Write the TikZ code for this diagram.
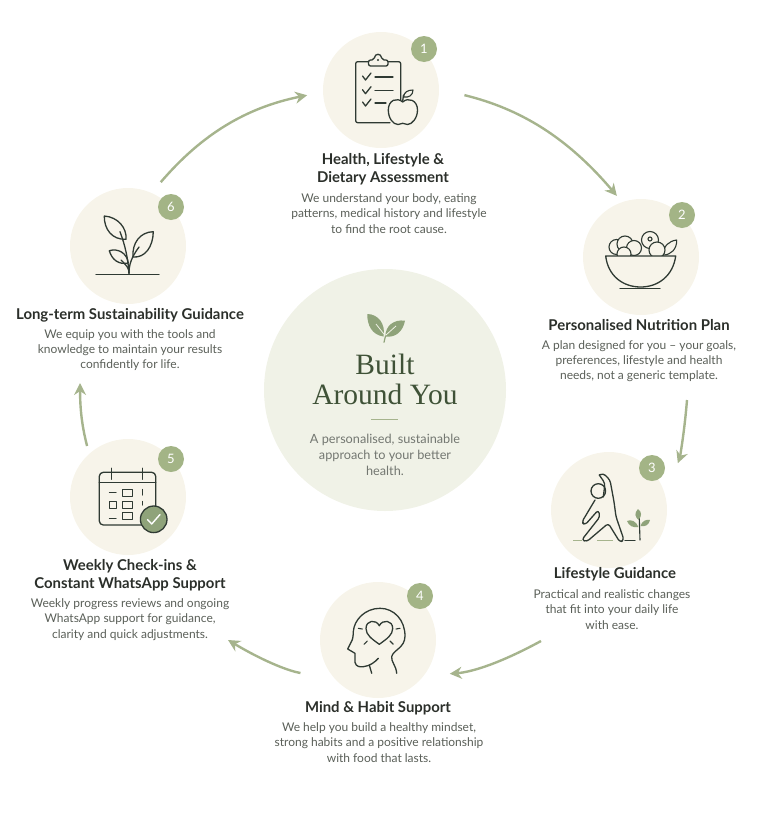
\documentclass[tikz,border=0pt]{standalone}
\usepackage{fontspec}
\setmainfont{Lato}
\newfontfamily\titleserif{Liberation Serif}
\usetikzlibrary{arrows.meta}
\definecolor{cream}{HTML}{F7F4EA}
\definecolor{hubgreen}{HTML}{F0F2E7}
\definecolor{sage}{HTML}{A3B486}
\definecolor{flowgreen}{HTML}{A6B48D}
\definecolor{leafgreen}{HTML}{8FA37A}
\definecolor{inkdark}{HTML}{2F3A33}
\definecolor{titledark}{HTML}{2B2F2A}
\definecolor{bodygrey}{HTML}{5A5F58}
\definecolor{hubtitle}{HTML}{3F5237}
\begin{document}
\begin{tikzpicture}[x=1pt,y=-1pt,stepdisc/.style={circle, fill=cream, minimum size=116pt, inner sep=0pt},badge/.style={circle, fill=sage, text=white, minimum size=26pt, inner sep=0pt, font=\fontsize{13}{13}\selectfont},flow/.style={draw=flowgreen, line width=2.4pt, -{Stealth[length=12pt,width=12pt]}},steptitle/.style={align=center, text=titledark, inner sep=0pt, font=\fontsize{14.9}{18}\selectfont\bfseries},stepbody/.style={align=center, text=bodygrey, inner sep=0pt, font=\fontsize{12}{15.3}\selectfont},icon/.style={draw=inkdark, line width=1.3pt, line cap=round, line join=round},thinicon/.style={icon, line width=1.1pt}]
\useasboundingbox (0,0) rectangle (768,833);
\node[circle, fill=hubgreen, minimum size=242pt, inner sep=0pt] (hub) at (385,390) {};
\foreach \n/\x/\y/\bx/\by in {1/381/90/424/49,2/641/257/682/215,3/609/510/652/468,4/378/640/420/596,5/128/497/171/459,6/128/246/171/207} {\node[stepdisc] (step\n) at (\x,\y) {};\node[badge] (badge\n) at (\bx,\by) {\n};}
\coordinate (flowstart23) at (687,400);
\coordinate (flowstart34) at (541,641);
\coordinate (flowend45) at (228,640);
\coordinate (flowend56) at (80,383);
\draw[flow, shorten <=26pt, shorten >=8pt] (step1.1) to[bend left=18] (step2.109);
\draw[flow, shorten >=35pt] (flowstart23) to[bend left=8] (step3.14);
\draw[flow, shorten >=26pt] (flowstart34) to[bend left=12] (step4.-38);
\draw[flow, shorten <=34pt] (step4.221) to[bend left=11] (flowend45);
\draw[flow, shorten <=8pt] (step5.132.6) to[bend left=7] (flowend56);
\draw[flow, shorten <=14pt, shorten >=16pt] (step6.66.4) to[bend left=19] (step1.182);
\node[steptitle] (title1) at (383,169) {Health, Lifestyle \&\\Dietary Assessment};
\node[stepbody] (text1) at (389,213.5) {We understand your body, eating\\patterns, medical history and lifestyle\\to find the root cause.};
\node[steptitle] (title2) at (639,325) {Personalised Nutrition Plan};
\node[stepbody] (text2) at (639,361) {A plan designed for you – your goals,\\preferences, lifestyle and health\\needs, not a generic template.};
\node[steptitle] (title3) at (615,574) {Lifestyle Guidance};
\node[stepbody] (text3) at (612,609.5) {Practical and realistic changes\\that fit into your daily life\\with ease.};
\node[steptitle] (title4) at (378,708) {Mind \& Habit Support};
\node[stepbody] (text4) at (379,742.5) {We help you build a healthy mindset,\\strong habits and a positive relationship\\with food that lasts.};
\node[steptitle] (title5) at (130,575.5) {Weekly Check-ins \&\\Constant WhatsApp Support};
\node[stepbody] (text5) at (130,619.5) {Weekly progress reviews and ongoing\\WhatsApp support for guidance,\\clarity and quick adjustments.};
\node[steptitle] (title6) at (130,315) {Long-term Sustainability Guidance};
\node[stepbody] (text6) at (130,350) {We equip you with the tools and\\knowledge to maintain your results\\confidently for life.};
\node[align=center, text=hubtitle, inner sep=0pt, font=\fontsize{29.5}{30}\titleserif] (hubtitle) at (385,379) {Built\\Around You};
\draw[flowgreen, line width=1pt] (371,419.7) -- (398,419.7);
\node[align=center, text=bodygrey!85, inner sep=0pt, font=\fontsize{12.7}{16}\selectfont] (hubtext) at (385,454.5) {A personalised, sustainable\\approach to your better\\health.};
% hub leaf
\fill[leafgreen] (367.3,314) .. controls (378,314) and (386,324) .. (383.5,336.5) .. controls (372,335) and (367,325) .. (367.3,314);
\fill[leafgreen] (405,320.7) .. controls (403,331) and (396,338) .. (385.5,336.5) .. controls (385,326) and (394,319) .. (405,320.7);
\draw[leafgreen, line width=1.2pt, line cap=round] (385.5,336) -- (384,342.3);
\draw[hubgreen, line width=.8pt] (383.8,334) -- (376,324);
\draw[hubgreen, line width=.8pt] (386,335) -- (396,326);
% clipboard and apple
\draw[icon, rounded corners=2pt] (390,122.7) -- (355.7,122.7) -- (355.7,61.7) -- (400.7,61.7) -- (400.7,102);
\draw[icon, fill=cream, rounded corners=2pt] (368.5,66) -- (368.5,60) -- (374,60) .. controls (375,53) and (381,53) .. (382,60) -- (388,60) -- (388,66) -- cycle;
\fill[inkdark] (378,60) circle (1.2);
\foreach \y in {77,90.7,103} {\draw[icon] (362.5,\y-1) -- (365.5,\y+3) -- (371,\y-4);}
\draw[icon] (375,77) -- (393,77);
\draw[icon] (375,90.7) -- (393,90.7);
\draw[icon] (375,103) -- (386,103);
\draw[icon, fill=cream] (402.7,102) .. controls (397,97) and (388.3,100) .. (388.3,110) .. controls (388.3,118) and (393,124.5) .. (398,124.5) .. controls (400,124.5) and (401,123.3) .. (402.7,123.3) .. controls (404.5,123.3) and (405.5,124.5) .. (407.5,124.5) .. controls (412,124.5) and (417.5,118) .. (417.5,110) .. controls (417.5,100) and (408,97) .. (402.7,102);
\draw[icon] (402.7,101) -- (403.5,95);
\draw[thinicon] (403.5,97) .. controls (404,92) and (408,90) .. (413,90) .. controls (413,95) and (409,98) .. (403.5,97);
% salad bowl
\draw[thinicon] (663.3,255) .. controls (663,246) and (669,241) .. (676.7,240) .. controls (677,249) and (671,255) .. (663.3,255);
\foreach \x/\y/\r in {616.5/247/7.5,625/244/8,634/248/7.5,650/240/8.5,657/250/8,624/254/7} {\draw[thinicon, fill=cream] (\x,\y) circle (\r);}
\draw[thinicon] (650,239) circle (2);
\draw[icon, fill=cream] (605.7,256) -- (675.7,256) .. controls (673,276) and (658,287) .. (640.7,287) .. controls (623,287) and (608,276) .. (605.7,256) -- cycle;
\draw[icon] (620,288.5) -- (660,288.5);
% stretching figure
\draw[icon, rounded corners=3pt] (599.3,475) -- (603.3,473.3) -- (610,480) -- (614,501.7) -- (616,516.7) -- (624,540) -- (620,542.3) -- (608.3,523.3) -- (586.7,541.7) -- (581.7,540) -- (600,516.7) -- (598.3,510) -- (585,525) -- (581.7,522.3) -- (595,500);
\draw[icon, rounded corners=3pt] (603.3,497) -- (605,483.3) -- (599.3,475);
\draw[icon] (598.3,491) circle (7.3);
\draw[flowgreen, line width=1pt] (573,540.7) -- (582,540.7);
\draw[flowgreen, line width=1pt] (597,540.7) -- (613,540.7);
\draw[thinicon] (625,540.7) -- (635,540.7);
\draw[thinicon] (639.3,518.3) -- (640,540);
\fill[leafgreen] (638,509) .. controls (634,513) and (635,517) .. (638.5,520) .. controls (642,516) and (642,512) .. (638,509);
\fill[leafgreen] (627,521) .. controls (631,519) and (636,521) .. (638.5,527) .. controls (633,528) and (629,526) .. (627,521);
\fill[leafgreen] (650,520) .. controls (646,519) and (642,521) .. (640.5,526) .. controls (645,527) and (649,525) .. (650,520);
% head with heart
\draw[icon] (396.7,673.3) .. controls (396,665) and (391,662) .. (391.7,656.7) .. controls (393,650) and (405,648) .. (405,636) .. controls (405,620) and (394,608.3) .. (380,608.3) .. controls (365,608.3) and (354,620) .. (353.3,631.7) .. controls (353.3,636) and (352.5,640) .. (351.7,641) -- (347.7,649) -- (355,653.3) -- (355,662.3) .. controls (356,667) and (360,667) .. (363.3,666.7) .. controls (370,666) and (375,662) .. (378.3,658.3);
\draw[icon] (369.3,665) -- (371.7,673.3);
\draw[icon] (379.3,644.3) .. controls (372,639) and (366,635) .. (366,628.5) .. controls (366,620) and (376,619) .. (379.3,625.7) .. controls (382.6,619) and (392.7,620) .. (392.7,628.5) .. controls (392.7,635) and (386.6,639) .. (379.3,644.3);
\draw[thinicon] (358.3,628.3) -- (362.3,629);
\draw[thinicon] (396,629) -- (400,628.3);
\draw[thinicon] (364,644.3) -- (367.3,641);
\draw[thinicon] (390,641) -- (393.3,644.3);
% calendar
\draw[icon, rounded corners=4pt] (99.3,472.3) rectangle (155.7,525);
\draw[icon] (99.3,482.7) -- (155.7,482.7);
\draw[icon] (111.7,468.3) -- (111.7,479.3);
\draw[icon] (142.3,468.3) -- (142.3,479.3);
\draw[thinicon] (109.3,492.7) -- (116,492.7);
\draw[thinicon] (109.3,518.3) -- (116,518.3);
\draw[thinicon] (142.7,489.5) -- (142.7,495);
\draw[thinicon] (142.7,501.5) -- (142.7,505);
\foreach \x/\y in {122.7/489.3,122.7/501.7,122.7/512.7,109.3/501.7} {\draw[thinicon] (\x,\y) rectangle ++(\ifdim\x pt<110pt 7\else 9.5\fi,7);}
\draw[icon, fill=leafgreen] (153.7,519.3) circle (13.3);
\draw[white, line width=1.4pt, line cap=round, line join=round] (147.5,519.5) -- (151.7,524) -- (160,514.5);
% seedling
\draw[icon] (96,274.7) -- (159,274.7);
\draw[icon] (129,273.3) .. controls (128,258) and (125,245) .. (120,231.7);
\draw[icon] (129,273.3) .. controls (129,265) and (131,258) .. (139,247);
\draw[icon] (129,273.3) .. controls (129,268) and (127,266) .. (121,260);
\draw[icon] (104.3,216) .. controls (118,217) and (127,228) .. (126,239.3) .. controls (112,240) and (104,229) .. (104.3,216);
\draw[icon] (153.3,231.7) .. controls (153,247) and (145,258) .. (133,257) .. controls (132,243) and (140,232) .. (153.3,231.7);
\draw[icon] (109.3,250.7) .. controls (118,248) and (127,253) .. (128.3,263) .. controls (119,265) and (112,260) .. (109.3,250.7);
\end{tikzpicture}
\end{document}
